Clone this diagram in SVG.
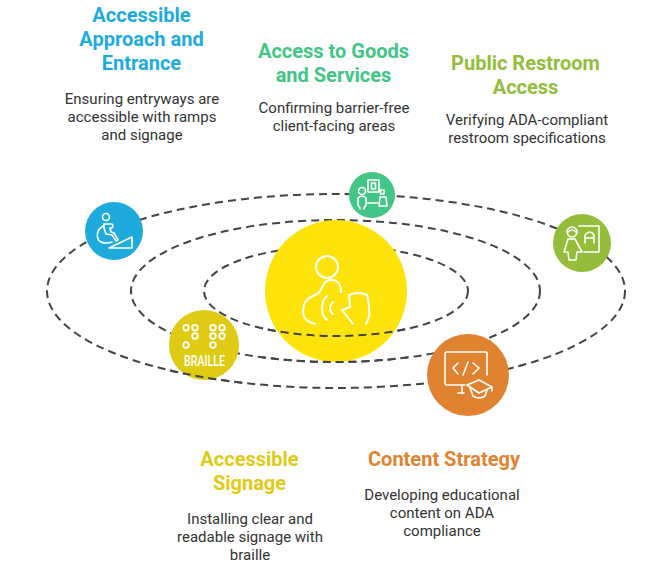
<svg xmlns="http://www.w3.org/2000/svg" width="672" height="575" viewBox="0 0 672 575">
<style>
.orbit{fill:none;stroke:#444;stroke-width:2;stroke-dasharray:8 5}
.ic{fill:none;stroke:#fff;stroke-width:1.600;stroke-linecap:round;stroke-linejoin:round}
.big{stroke-width:2}
.t{font-family:Roboto,"Liberation Sans",sans-serif;font-size:20px;font-weight:700;text-anchor:middle}
.d{font-family:Roboto,"Liberation Sans",sans-serif;font-size:15px;fill:#333;text-anchor:middle}
</style>
<defs>
<ellipse id="o1" class="orbit" cx="336" cy="291" rx="289" ry="97"/>
<ellipse id="o2" class="orbit" cx="335.500" cy="291" rx="204.500" ry="71"/>
<ellipse id="o3" class="orbit" cx="336" cy="291" rx="132" ry="45"/>
<clipPath id="front-center"><rect x="262" y="310" width="148" height="60"/></clipPath>
<clipPath id="front-signage"><rect x="165" y="358" width="78" height="26"/></clipPath>
</defs>
<rect width="672" height="575" fill="#fff"/>
<g id="connectors">
<use href="#o1"/>
<use href="#o2"/>
<use href="#o3"/>
</g>
<g id="center">
<circle cx="336" cy="291" r="71" fill="#fee30a"/>
<g class="ic big">
<circle cx="327" cy="267" r="11"/>
<path d="M341 292C341 285 338 280 332 280C322 279 323 291 317 294C310 297 303 300 303 312C303 318 308 322 315 324"/>
<path d="M327 296C321 301 320 315 327 320M333 302C329 306 329 311 333 314"/>
<path d="M353 324L342 310L350 307L349 295Q358 291 367 295Q370 305 369 317L366 324"/>
</g>
</g>
<g id="signage">
<circle cx="204" cy="345" r="35" fill="#dfca14"/>
<g fill="none" stroke="#fff" stroke-width="1.800">
<circle cx="186" cy="327.700" r="2.800"/><circle cx="195" cy="327.700" r="2.800"/><circle cx="195" cy="336" r="2.800"/><circle cx="186" cy="345" r="2.800"/>
<circle cx="213" cy="327.700" r="2.800"/><circle cx="222" cy="327.700" r="2.800"/><circle cx="213" cy="336" r="2.800"/><circle cx="222" cy="336" r="2.800"/><circle cx="213" cy="345" r="2.800"/>
</g>
<text x="204.500" y="366" font-family="Roboto,'Liberation Sans',sans-serif" font-size="15" font-weight="500" fill="#fff" text-anchor="middle" textLength="41" lengthAdjust="spacingAndGlyphs">BRAILLE</text>
</g>
<g id="connectors-front">
<use href="#o2" clip-path="url(#front-center)"/>
<use href="#o3" clip-path="url(#front-center)"/>
<use href="#o1" clip-path="url(#front-signage)"/>
</g>
<g id="entrance">
<circle cx="114" cy="231" r="29" fill="#1eabdc"/>
<g class="ic">
<circle cx="106" cy="217" r="3.500"/>
<path d="M104 224L112 224Q114 226 112 228L110 228L111 232L114 233L118 240L116 241L112 235L106 234L104 228Z"/>
<path d="M103 226C95 231 95 243 106 243C108 243 110 243 112 242"/>
<path d="M109 248L132 237L132 248Z"/>
</g>
</g>
<g id="goods">
<circle cx="372" cy="195" r="23" fill="#42c586"/>
<g class="ic" stroke-width="1.300">
<rect x="368" y="180" width="11" height="12"/><rect x="371.500" y="183" width="4" height="6"/>
<circle cx="362" cy="191" r="3.500"/>
<path d="M358 198Q362 194 366 198L366 205L364 208L364 209M358 198L358 205L360 208L360 209"/>
<path d="M367 203L378 203"/>
<rect x="380.500" y="190" width="3.500" height="4"/>
<path d="M380 197L386 197L387 206L379 206Z"/>
</g>
</g>
<g id="restroom">
<circle cx="582" cy="243" r="29" fill="#93bd3a"/>
<g class="ic">
<path d="M579 226L599 226L599 252L584 252"/>
<path d="M585 243L585 235Q590 229 594 235L594 243M585 238L594 238"/>
<circle cx="572" cy="232" r="5"/><path d="M568 232Q572 228 576 232"/>
<path d="M568 239L575 239L582 252L577 252L576 260L569 260L568 252L564 252Z"/>
</g>
</g>
<g id="content">
<circle cx="468" cy="375" r="41" fill="#e08330"/>
<g class="ic">
<path d="M487 375L487 353Q487 352 486 352L447 352Q445 352 445 354L445 383Q445 385 447 385L465 385"/>
<path d="M458 363L453 368L458 374M473 363L479 368L473 374M468 362L463 375M462 386L462 393M458 393L464 393"/>
<path d="M467 385L479 380L492 387L479 393Z"/>
<path d="M470 388L473 396Q479 400 485 396L487 390M492 387L492 391"/>
</g>
</g>
<g id="label-entrance">
<g class="t" fill="#1eabdc"><text x="141.500" y="22">Accessible</text><text x="141.500" y="46">Approach and</text><text x="141.500" y="70">Entrance</text></g>
<g class="d"><text x="142" y="104">Ensuring entryways are</text><text x="142" y="122">accessible with ramps</text><text x="142" y="140">and signage</text></g>
</g>
<g id="label-goods">
<g class="t" fill="#42c586"><text x="333.500" y="58">Access to Goods</text><text x="333.500" y="82">and Services</text></g>
<g class="d"><text x="334" y="113">Confirming barrier-free</text><text x="334" y="131">client-facing areas</text></g>
</g>
<g id="label-restroom">
<g class="t" fill="#93bd3a"><text x="525.500" y="70">Public Restroom</text><text x="525.500" y="94">Access</text></g>
<g class="d"><text x="527" y="125">Verifying ADA-compliant</text><text x="527" y="143">restroom specifications</text></g>
</g>
<g id="label-signage">
<g class="t" fill="#dfca14"><text x="249.500" y="466">Accessible</text><text x="249.500" y="490">Signage</text></g>
<g class="d"><text x="250" y="524">Installing clear and</text><text x="250" y="542">readable signage with</text><text x="250" y="560">braille</text></g>
</g>
<g id="label-content">
<text class="t" fill="#e08330" x="444" y="466">Content Strategy</text>
<g class="d"><text x="442" y="500">Developing educational</text><text x="442" y="518">content on ADA</text><text x="442" y="536">compliance</text></g>
</g>
</svg>
